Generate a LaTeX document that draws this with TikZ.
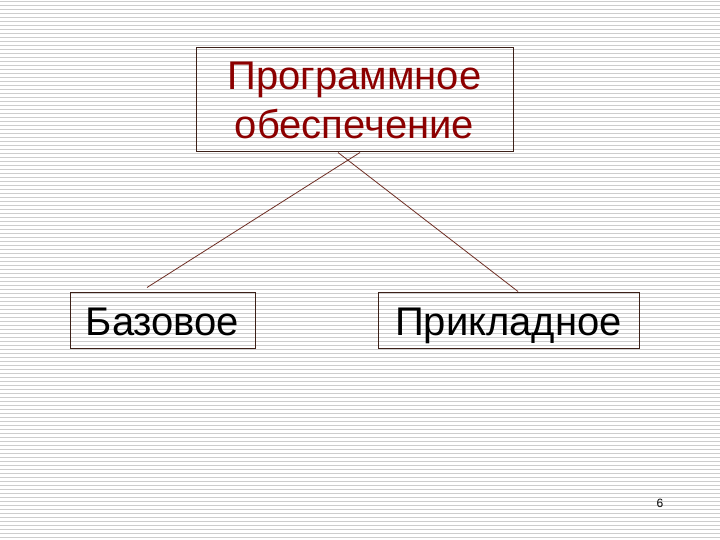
\documentclass[tikz,border=0pt]{standalone}
\usepackage{fontspec}
\setmainfont{Liberation Sans}
\usepackage{tikz}
\usetikzlibrary{calc,positioning}
\definecolor{boxline}{RGB}{60,32,24}
\definecolor{linkline}{RGB}{110,45,35}
\definecolor{titlered}{RGB}{140,0,0}
\definecolor{stripegray}{RGB}{205,205,205}
\newcommand{\unitpx}{1pt}
\tikzstyle{topbox}=[draw=boxline, line width=1pt, rectangle, minimum width=317*\unitpx, minimum height=104*\unitpx, inner sep=0, align=center, text=titlered, font=\fontsize{40}{49}\selectfont]
\tikzstyle{leafbox}=[draw=boxline, line width=1pt, rectangle, minimum height=56*\unitpx, inner sep=0, text height=30*\unitpx, text depth=0pt, text=black, font=\fontsize{40}{48}\selectfont]
\tikzstyle{link}=[-, draw=linkline, line width=0.8pt]
\tikzstyle{stripe}=[-, draw=stripegray, line width=1pt]

\begin{document}
\begin{tikzpicture}
  \useasboundingbox (0,0) rectangle (720*\unitpx, -540*\unitpx);
  \fill[white] (0,0) rectangle (720*\unitpx, -540*\unitpx);

  % background stripes
  \foreach \i in {0,...,134}
    \draw[stripe] (0, -4*\i*\unitpx-1.5*\unitpx) -- (720*\unitpx, -4*\i*\unitpx-1.5*\unitpx);

  \node[topbox] (soft) at (354.5*\unitpx, -100*\unitpx) {Программное\\обеспечение};

  \node[leafbox, minimum width=185*\unitpx] (base) at (162.5*\unitpx, -320*\unitpx) {Базовое};
  \node[leafbox, minimum width=261*\unitpx] (appl) at (508.5*\unitpx, -320*\unitpx) {Прикладное};

  \node[font=\fontsize{12}{14}\selectfont] (page) at (660*\unitpx, -503*\unitpx) {6};

  \coordinate (softL) at ([xshift=5.5*\unitpx]soft.south);
  \coordinate (softR) at ([xshift=-16.5*\unitpx]soft.south);
  \coordinate (baseTop) at ([xshift=-15.5*\unitpx, yshift=4*\unitpx]base.north);
  \coordinate (applTop) at ([xshift=9.5*\unitpx]appl.north);

  \draw[link] (softL) to (baseTop);
  \draw[link] (softR) to (applTop);

\end{tikzpicture}
\end{document}
